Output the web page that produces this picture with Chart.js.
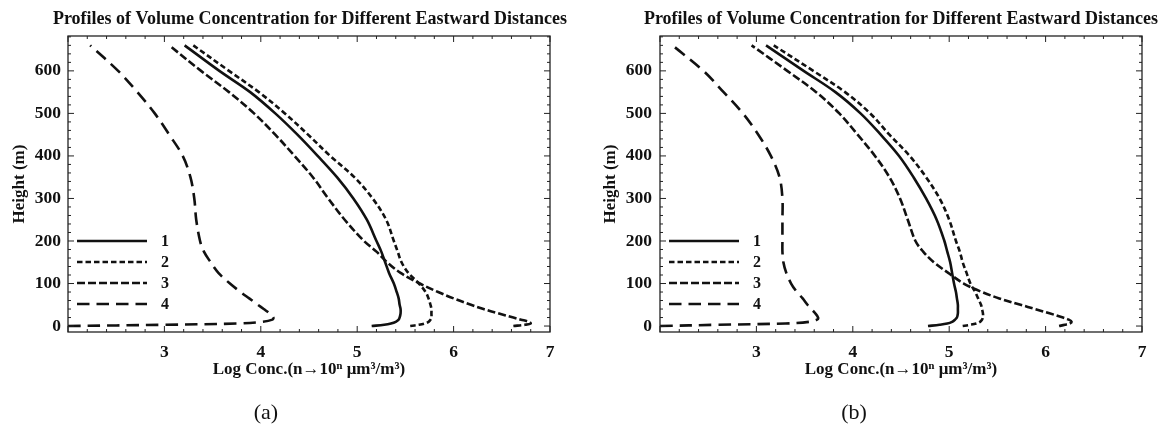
<!DOCTYPE html>
<html><head><meta charset="utf-8">
<script src="https://cdn.jsdelivr.net/npm/chart.js@4.4.1/dist/chart.umd.min.js"></script>
<style>
html,body{margin:0;padding:0;background:#fff;overflow:hidden;}
#wrap{position:relative;width:1165px;height:429px;overflow:hidden;}
canvas{position:absolute;top:0;}
.cap{position:absolute;top:398px;width:60px;text-align:center;font:22px 'Liberation Serif','Times New Roman',serif;line-height:28px;color:#111;}
</style></head><body>
<div id="wrap">
<canvas id="ca" width="620" height="429" style="left:0"></canvas>
<canvas id="cb" width="642" height="429" style="left:580px"></canvas>
<div class="cap" style="left:236px">(a)</div>
<div class="cap" style="left:824px">(b)</div>
</div>
<script>
// ---- data (height in m, log concentration) ----
const heights = [0, 3, 6, 10, 15, 20, 30, 40, 50, 65, 80, 100, 125, 150, 175, 200, 250, 300, 350, 400, 450, 500, 550, 600, 660];
const seriesLabels = ['1', '2', '3', '4'];
const concA1 = [5.15, 5.28, 5.35, 5.40, 5.43, 5.44, 5.45, 5.45, 5.44, 5.43, 5.41, 5.38, 5.33, 5.29, 5.25, 5.20, 5.10, 4.96, 4.79, 4.59, 4.38, 4.15, 3.89, 3.57, 3.21];
const concA2 = [5.55, 5.64, 5.70, 5.74, 5.76, 5.77, 5.77, 5.77, 5.76, 5.74, 5.71, 5.64, 5.53, 5.46, 5.42, 5.38, 5.30, 5.16, 4.97, 4.72, 4.49, 4.25, 3.98, 3.67, 3.30];
const concA3 = [6.62, 6.74, 6.80, 6.78, 6.70, 6.62, 6.46, 6.31, 6.18, 6.00, 5.84, 5.65, 5.45, 5.31, 5.20, 5.07, 4.87, 4.70, 4.54, 4.35, 4.15, 3.93, 3.67, 3.38, 3.05];
const concA4 = [2.00, 3.00, 3.75, 4.02, 4.12, 4.13, 4.09, 4.03, 3.97, 3.88, 3.79, 3.68, 3.56, 3.48, 3.41, 3.37, 3.33, 3.31, 3.27, 3.19, 3.05, 2.90, 2.72, 2.52, 2.23];
const concB1 = [4.78, 4.90, 4.98, 5.03, 5.06, 5.08, 5.09, 5.09, 5.09, 5.08, 5.07, 5.05, 5.03, 5.01, 4.98, 4.95, 4.87, 4.76, 4.63, 4.48, 4.29, 4.08, 3.82, 3.49, 3.10];
const concB2 = [5.14, 5.22, 5.28, 5.32, 5.34, 5.35, 5.35, 5.34, 5.33, 5.30, 5.27, 5.22, 5.18, 5.14, 5.11, 5.07, 5.00, 4.90, 4.76, 4.59, 4.38, 4.18, 3.92, 3.59, 3.18];
const concB3 = [6.14, 6.20, 6.25, 6.27, 6.24, 6.18, 6.04, 5.89, 5.74, 5.52, 5.34, 5.15, 4.99, 4.84, 4.73, 4.65, 4.57, 4.49, 4.38, 4.23, 4.05, 3.86, 3.62, 3.32, 2.95];
const concB4 = [2.00, 2.60, 3.30, 3.55, 3.63, 3.64, 3.61, 3.57, 3.53, 3.48, 3.42, 3.36, 3.31, 3.28, 3.27, 3.27, 3.27, 3.27, 3.24, 3.15, 3.02, 2.86, 2.66, 2.45, 2.13];
const xTicks = [3, 4, 5, 6, 7];
const yTicks = [0, 100, 200, 300, 400, 500, 600];
const chartTitle = 'Profiles of Volume Concentration for Different Eastward Distances';
const xTitle = 'Log Conc.(n\u219210\u207F \u03BCm\u00B3/m\u00B3)';
const yTitle = 'Height (m)';

// ---- styling ----
const INK = '#111';
const SERIF = "'Liberation Serif','Times New Roman',serif";
const dashes = [[], [5.5, 3], [8, 3], [12.5, 7]];
const LW = 2.6;

const frameTicks = {
  id: 'frameTicks',
  afterDatasetsDraw(chart) {
    const {ctx, chartArea: a, scales: {x, y}} = chart;
    ctx.save();
    ctx.strokeStyle = '#222';
    ctx.lineWidth = 1.3;
    ctx.strokeRect(a.left, a.top, a.right - a.left, a.bottom - a.top);
    ctx.lineWidth = 1;
    ctx.beginPath();
    for (let k = 0; k <= 25; k++) {
      const px = x.getPixelForValue(2 + k * 0.2);
      const len = (k % 5 === 0) ? 6 : 3;
      ctx.moveTo(px, a.bottom); ctx.lineTo(px, a.bottom - len);
      ctx.moveTo(px, a.top); ctx.lineTo(px, a.top + len);
    }
    for (let k = 0; k <= 34; k++) {
      const py = y.getPixelForValue(k * 20);
      const len = (k % 5 === 0) ? 6 : 3;
      ctx.moveTo(a.left, py); ctx.lineTo(a.left + len, py);
      ctx.moveTo(a.right, py); ctx.lineTo(a.right - len, py);
    }
    ctx.stroke();
    ctx.restore();
  }
};

const insideLegend = {
  id: 'insideLegend',
  afterDraw(chart, args, o) {
    const {ctx, chartArea: a} = chart;
    ctx.save();
    ctx.font = 'bold 16px ' + SERIF;
    ctx.fillStyle = INK;
    ctx.textBaseline = 'middle';
    ctx.textAlign = 'left';
    const n = chart.data.datasets.length;
    chart.data.datasets.forEach((ds, i) => {
      const yc = a.bottom - o.bottomOffset - (n - 1 - i) * o.rowGap;
      ctx.setLineDash(ds.borderDash || []);
      ctx.lineWidth = ds.borderWidth;
      ctx.strokeStyle = ds.borderColor;
      ctx.beginPath();
      ctx.moveTo(a.left + o.lineStart, yc);
      ctx.lineTo(a.left + o.lineStart + o.lineLen, yc);
      ctx.stroke();
      ctx.setLineDash([]);
      ctx.fillText(ds.label, a.left + o.textX, yc + 1);
    });
    ctx.restore();
  }
};

function makeChart(id, concs, g) {
  const datasets = concs.map((c, i) => ({
    label: seriesLabels[i],
    data: heights.map((h, j) => ({x: c[j], y: h})),
    showLine: true,
    pointRadius: 0,
    borderColor: INK,
    borderWidth: LW,
    borderDash: dashes[i],
    tension: 0.35,
    fill: false
  }));
  return new Chart(document.getElementById(id), {
    type: 'scatter',
    data: {datasets},
    plugins: [frameTicks, insideLegend],
    options: {
      responsive: false,
      animation: false,
      layout: {padding: {left: 0, right: 0, top: 0, bottom: 30}},
      plugins: {
        legend: {display: false},
        tooltip: {enabled: false},
        title: {
          display: true, text: chartTitle, fullSize: true, color: INK,
          font: {family: SERIF, size: 18, weight: 'bold'},
          padding: {top: 9, bottom: 5.4}
        },
        insideLegend: {bottomOffset: 28, rowGap: 21, lineStart: 9, lineLen: 70, textX: 93}
      },
      scales: {
        x: {
          type: 'linear', position: 'bottom', min: 2, max: 7,
          afterBuildTicks: (s) => { s.ticks = xTicks.map(v => ({value: v})); },
          afterFit: (s) => { s.height = 429 - 30 - 332; },
          grid: {display: false, drawTicks: false},
          border: {display: false},
          ticks: {autoSkip: false, maxRotation: 0, color: INK, padding: 10,
                  font: {family: SERIF, size: 17.5, weight: 'bold'}},
          title: {display: true, text: xTitle, color: INK,
                  font: {family: SERIF, size: 17, weight: 'bold'},
                  padding: {top: 0, bottom: 19}}
        },
        y: {
          type: 'linear', position: 'left', min: -14, max: 682,
          afterBuildTicks: (s) => { s.ticks = yTicks.map(v => ({value: v})); },
          afterFit: (s) => { s.width = g.yWidth; },
          grid: {display: false, drawTicks: false},
          border: {display: false},
          ticks: {autoSkip: false, color: INK, padding: g.yTickPad,
                  font: {family: SERIF, size: 17.5, weight: 'bold'}},
          title: {display: true, text: yTitle, color: INK,
                  font: {family: SERIF, size: 17, weight: 'bold'},
                  padding: {top: g.yTitlePad, bottom: 0}}
        },
        yRight: {
          type: 'linear', position: 'right', display: true, min: -14, max: 682,
          afterFit: (s) => { s.width = g.rightGap; },
          grid: {display: false, drawTicks: false},
          border: {display: false},
          ticks: {display: false}
        }
      }
    }
  });
}

makeChart('ca', [concA1, concA2, concA3, concA4], {rightGap: 70, yWidth: 68, yTickPad: 7, yTitlePad: 9});
makeChart('cb', [concB1, concB2, concB3, concB4], {rightGap: 80, yWidth: 80, yTickPad: 8, yTitlePad: 20});
</script>
</body></html>
